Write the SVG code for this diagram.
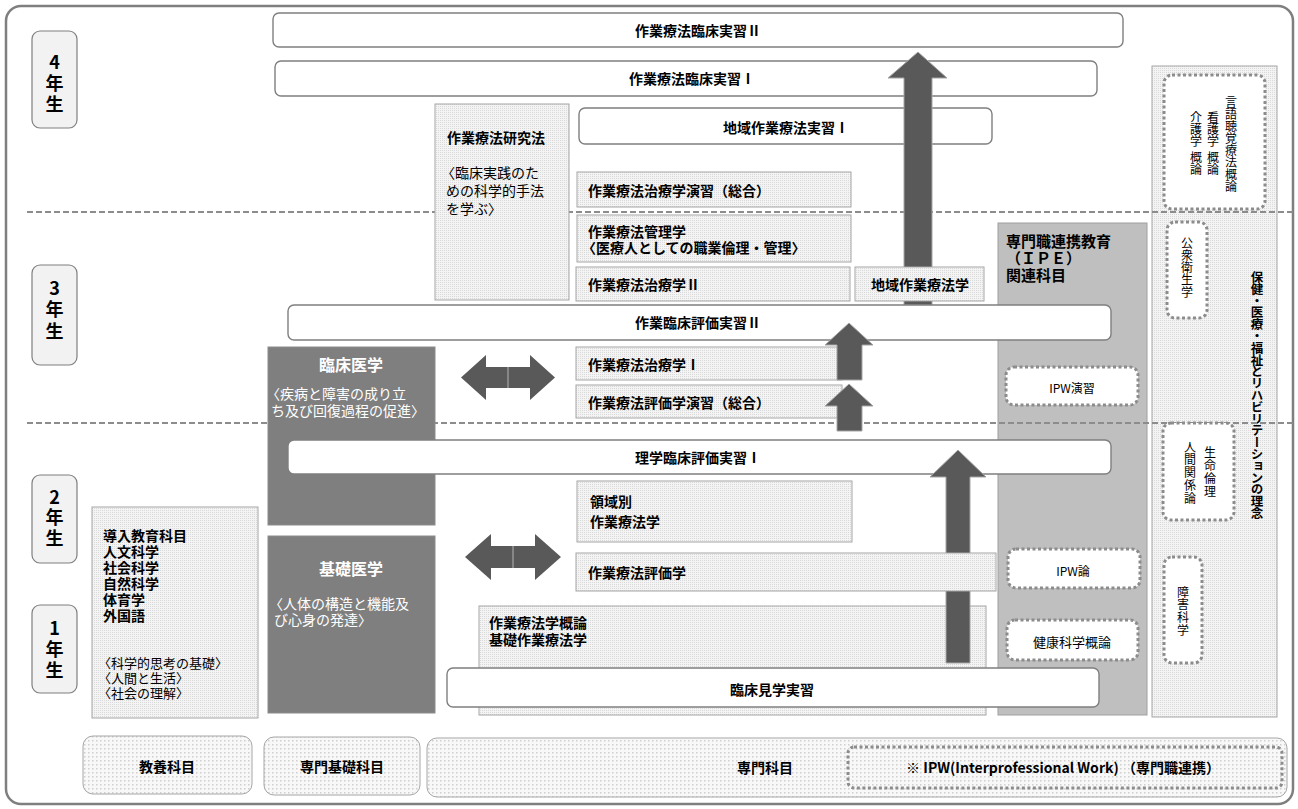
<svg xmlns="http://www.w3.org/2000/svg" width="1298" height="809" viewBox="0 0 1298 809">
<defs>
<pattern id="mesh" width="2" height="2" patternUnits="userSpaceOnUse"><rect width="2" height="2" fill="#f4f4f4"/><rect width="1" height="1" fill="#d9d9d9"/></pattern>
<pattern id="dots" width="4" height="4" patternUnits="userSpaceOnUse"><rect width="4" height="4" fill="#f8f8f8"/><rect width="1.5" height="1.5" fill="#cfcfcf"/></pattern>
<style>
text{font-family:"Noto Sans CJK JP","Noto Sans",sans-serif;fill:#000;dominant-baseline:central}
.b{font-weight:700;font-size:14px}
.r{font-size:14px}
.c{text-anchor:middle}
.w{fill:#fff}
.frame{fill:#fff;stroke:#7f7f7f;stroke-width:2.5}
.yr{fill:#f2f2f2;stroke:#7f7f7f;stroke-width:1.2}
.yt{font-weight:700;font-size:18px;writing-mode:vertical-rl;text-orientation:upright}
.wb{fill:#fff;stroke:#7f7f7f;stroke-width:1.4}
.mb{fill:url(#mesh);stroke:#a6a6a6;stroke-width:1}
.db{fill:#7f7f7f;stroke:#8c8c8c;stroke-width:1}
.ipe{fill:#bfbfbf;stroke:#a0a0a0;stroke-width:1}
.dt{fill:#fff;stroke:#8c8c8c;stroke-width:3;stroke-dasharray:3 2.5}
.dash{stroke:#8c8c8c;stroke-width:2;stroke-dasharray:6 3;fill:none}
.arr{fill:#595959;stroke:#a6a6a6;stroke-width:1}
.div{stroke:#a6a6a6;stroke-width:1.2}
.lbl{fill:url(#dots);stroke:#a6a6a6;stroke-width:1}
.v{writing-mode:vertical-rl;font-size:12px}
.vb{writing-mode:vertical-rl;font-size:12.5px;font-weight:700}
</style>
</defs>

<rect class="frame" x="6" y="6" width="1287" height="798" rx="15"/>

<g id="col-philosophy">
<rect class="mb" x="1152" y="66" width="125" height="651"/>
<text class="vb" x="1257" y="271" style="letter-spacing:-0.7px">保健・医療・福祉とリハビリテーションの理念</text>
</g>
<g id="ipe">
<rect class="ipe" x="998" y="223" width="149" height="492"/>
<text class="b" style="font-size:15px"><tspan x="1006" y="240">専門職連携教育</tspan><tspan x="1006" y="257">（ＩＰＥ）</tspan><tspan x="1006" y="274">関連科目</tspan></text>
</g>

<g id="grid">
<line class="dash" x1="27" y1="212" x2="1293" y2="212"/>
<line class="dash" x1="27" y1="423" x2="1293" y2="423"/>
</g>

<g id="year4"><rect class="yr" x="32" y="31" width="45" height="97" rx="8"/>
<text class="yt" x="54.5" y="53" style="letter-spacing:3px">4年生</text></g>
<g id="year3"><rect class="yr" x="32" y="265" width="45" height="100" rx="8"/>
<text class="yt" x="54.5" y="279" style="letter-spacing:3.5px">3年生</text></g>
<g id="year2"><rect class="yr" x="32" y="475" width="45" height="88" rx="8"/>
<text class="yt" x="54.5" y="488" style="letter-spacing:2.5px">2年生</text></g>
<g id="year1"><rect class="yr" x="32" y="605" width="45" height="88" rx="8"/>
<text class="yt" x="54.5" y="619" style="letter-spacing:3px">1年生</text></g>

<g id="ot-clinical-2"><rect class="wb" x="273" y="13" width="850" height="34" rx="6"/>
<text class="b c" x="698" y="30">作業療法臨床実習Ⅱ</text></g>
<g id="ot-clinical-1"><rect class="wb" x="275" y="61" width="822" height="35" rx="6"/>
<text class="b c" x="692" y="78">作業療法臨床実習Ⅰ</text></g>
<g id="community-practice"><rect class="wb" x="579" y="108" width="413" height="36" rx="6"/>
<text class="b c" x="786" y="127">地域作業療法実習Ⅰ</text></g>

<g id="connectors-top">
<path class="arr" d="M918,52 L947,78 L932,78 L932,305 L904,305 L904,78 L888,78 Z"/>
</g>

<g id="research"><rect class="mb" x="435" y="104" width="134" height="196"/>
<text class="b" x="447" y="137">作業療法研究法</text>
<text class="r"><tspan x="441" y="172">〈臨床実践のた</tspan><tspan x="446" y="190">めの科学的手法</tspan><tspan x="446" y="208">を学ぶ〉</tspan></text></g>
<g id="therapy-seminar"><rect class="mb" x="577" y="172" width="274" height="35"/>
<text class="b" x="588" y="190">作業療法治療学演習（総合）</text></g>
<g id="management"><rect class="mb" x="577" y="215" width="274" height="47"/>
<text class="b"><tspan x="588" y="231">作業療法管理学</tspan><tspan x="582" y="247">〈医療人としての職業倫理・管理〉</tspan></text></g>
<g id="therapy-2"><rect class="mb" x="576" y="267" width="274" height="34"/>
<text class="b" x="588" y="284">作業療法治療学Ⅱ</text></g>
<g id="community-ot"><rect class="mb" x="855" y="267" width="129" height="34"/>
<text class="b c" x="920" y="284">地域作業療法学</text></g>

<g id="eval-practice-2"><rect class="wb" x="288" y="305" width="823" height="35" rx="6"/>
<text class="b c" x="698" y="322">作業臨床評価実習Ⅱ</text></g>

<g id="clinical-med"><rect class="db" x="268" y="347" width="167" height="178"/>
<text class="b c w" x="351" y="364" style="font-size:16px">臨床医学</text>
<text class="r w"><tspan x="266" y="393">〈疾病と障害の成り立</tspan><tspan x="271" y="410">ち及び回復過程の促進〉</tspan></text></g>

<g id="therapy-1"><rect class="mb" x="576" y="347" width="266" height="33"/>
<text class="b" x="588" y="364">作業療法治療学Ⅰ</text></g>
<g id="eval-seminar"><rect class="mb" x="576" y="385" width="266" height="33"/>
<text class="b" x="588" y="402">作業療法評価学演習（総合）</text></g>

<g id="connectors-mid">
<path class="arr" d="M461,377.5 L486,355 L486,367 L530,367 L530,355 L555,377.5 L530,400 L530,388 L486,388 L486,400 Z" style="stroke:none"/>
<line class="div" x1="508" y1="367" x2="508" y2="388"/>
<path class="arr" d="M849,323 L873,345 L862,345 L862,380 L837,380 L837,345 L825,345 Z"/>
<path class="arr" d="M849,384 L873,406 L862,406 L862,431 L837,431 L837,406 L825,406 Z"/>
</g>

<g id="pt-eval-practice-1"><rect class="wb" x="288" y="440" width="823" height="34" rx="6"/>
<text class="b c" x="698" y="457">理学臨床評価実習Ⅰ</text></g>

<g id="liberal"><rect class="mb" x="92" y="507" width="166" height="211"/>
<text class="b"><tspan x="103" y="535">導入教育科目</tspan><tspan x="103" y="551">人文科学</tspan><tspan x="103" y="567">社会科学</tspan><tspan x="103" y="583">自然科学</tspan><tspan x="103" y="599">体育学</tspan><tspan x="103" y="615">外国語</tspan></text>
<text class="r" style="font-size:13px"><tspan x="98" y="662">〈科学的思考の基礎〉</tspan><tspan x="98" y="677">〈人間と生活〉</tspan><tspan x="98" y="692">〈社会の理解〉</tspan></text></g>

<g id="basic-med"><rect class="db" x="268" y="536" width="167" height="177"/>
<text class="b c w" x="351" y="568" style="font-size:16px">基礎医学</text>
<text class="r w"><tspan x="269" y="603">〈人体の構造と機能及</tspan><tspan x="274" y="619">び心身の発達〉</tspan></text></g>

<g id="domain"><rect class="mb" x="577" y="481" width="275" height="61"/>
<text class="b"><tspan x="590" y="501">領域別</tspan><tspan x="590" y="521">作業療法学</tspan></text></g>

<g id="intro"><rect class="mb" x="479" y="606" width="507" height="109"/>
<text class="b"><tspan x="489" y="622">作業療法学概論</tspan><tspan x="489" y="639">基礎作業療法学</tspan></text></g>

<g id="connectors-low">
<path class="arr" d="M465,557 L491,534 L491,546 L535,546 L535,534 L561,557 L535,580 L535,568 L491,568 L491,580 Z" style="stroke:none"/>
<line class="div" x1="513" y1="546" x2="513" y2="568"/>
<path class="arr" d="M958,450 L986,477 L970,477 L970,663 L946,663 L946,477 L930,477 Z"/>
</g>

<g id="evaluation"><rect class="mb" x="576" y="553" width="420" height="38"/>
<text class="b" x="588" y="572">作業療法評価学</text></g>

<g id="observation"><rect class="wb" x="447" y="668" width="652" height="39" rx="6"/>
<text class="b c" x="772" y="689">臨床見学実習</text></g>

<g id="slp-etc"><rect class="dt" x="1164" y="75" width="101" height="134" rx="8"/>
<text class="v" x="1231" y="96">言語聴覚療法概論</text>
<text class="v"><tspan x="1213" y="111">看護学</tspan><tspan x="1213" y="151">概論</tspan></text>
<text class="v"><tspan x="1196" y="111">介護学</tspan><tspan x="1196" y="151">概論</tspan></text></g>
<g id="public-health"><rect class="dt" x="1167" y="222" width="40" height="96" rx="8"/>
<text class="v" x="1187" y="237" style="letter-spacing:0.3px">公衆衛生学</text></g>
<g id="ethics"><rect class="dt" x="1163" y="423" width="71" height="97" rx="8"/>
<text class="v" x="1210" y="446" style="letter-spacing:1.3px">生命倫理</text>
<text class="v" x="1190" y="441" style="letter-spacing:0.8px">人間関係論</text></g>
<g id="disability"><rect class="dt" x="1164" y="557" width="38" height="106" rx="8"/>
<text class="v" x="1183" y="586" style="letter-spacing:0.7px">障害科学</text></g>

<g id="ipw-seminar"><rect class="dt" x="1006" y="367" width="132" height="38" rx="8"/>
<text class="c" x="1072" y="387" style="font-size:12px">IPW演習</text></g>
<g id="ipw-theory"><rect class="dt" x="1008" y="549" width="132" height="39" rx="8"/>
<text class="c" x="1073" y="570" style="font-size:12px">IPW論</text></g>
<g id="health-sci"><rect class="dt" x="1007" y="620" width="131" height="40" rx="8"/>
<text class="c" x="1072" y="641" style="font-size:13px">健康科学概論</text></g>

<g id="label-liberal"><rect class="lbl" x="83" y="736" width="169" height="58" rx="10"/>
<text class="b c" x="167" y="766">教養科目</text></g>
<g id="label-basic"><rect class="lbl" x="264" y="737" width="156" height="58" rx="10"/>
<text class="b c" x="342" y="766">専門基礎科目</text></g>
<g id="label-major"><rect class="lbl" x="427" y="738" width="860" height="59" rx="10"/>
<text class="b c" x="765" y="767">専門科目</text></g>
<g id="label-ipw"><rect class="dt" x="848" y="747" width="434" height="41" rx="6" style="fill:none"/>
<text class="b c" x="1063" y="767" style="font-size:14px">※  IPW(Interprofessional Work) （専門職連携）</text></g>
</svg>
